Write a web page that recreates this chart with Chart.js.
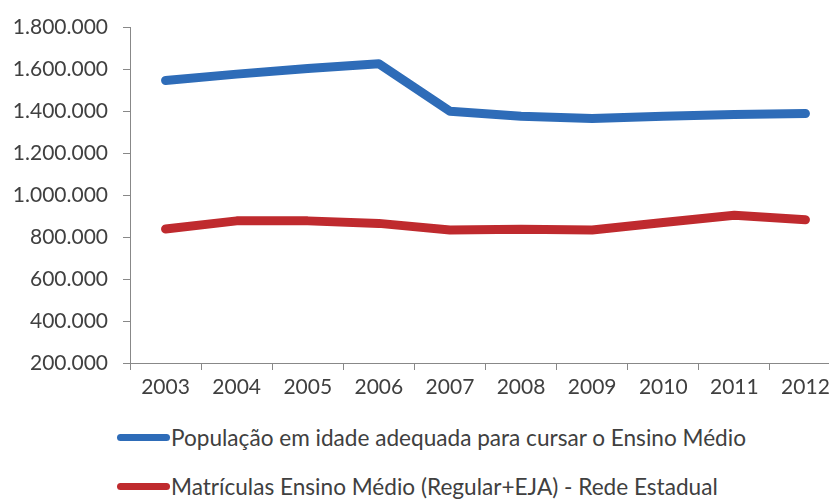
<!DOCTYPE html>
<html>
<head>
<meta charset="utf-8">
<script src="https://cdn.jsdelivr.net/npm/chart.js@4.4.1/dist/chart.umd.min.js"></script>
<style>
  html, body { margin: 0; padding: 0; background: #fff; overflow: hidden; width: 829px; height: 500px; }
  #wrap { position: absolute; left: 0; top: 0; width: 842px; height: 410px; }
  .leg { position: absolute; left: 117px; font-family: Lato, sans-serif; font-size: 22.6px; color: #404040; white-space: nowrap; }
  .sw { position: absolute; left: 0; width: 53px; height: 7px; border-radius: 4px; }
  .lt { position: absolute; left: 54px; line-height: 24px; }
</style>
</head>
<body>
<div id="wrap"><canvas id="c" width="842" height="410"></canvas></div>
<div class="leg" id="leg1" style="top:426px;"><div class="sw" style="top:8px;background:#2e6cb8"></div><div class="lt" id="t1"></div></div>
<div class="leg" id="leg2" style="top:475px;"><div class="sw" style="top:8px;background:#bf2a2e"></div><div class="lt" id="t2"></div></div>
<script>
const years = ['2003','2004','2005','2006','2007','2008','2009','2010','2011','2012'];
const populacao = [1548000, 1578000, 1605000, 1628000, 1401000, 1377000, 1366000, 1377000, 1385000, 1390000];
const matriculas = [839000, 878000, 878000, 866000, 834000, 838000, 834000, 870000, 905000, 883000];
const seriesNames = ['População em idade adequada para cursar o Ensino Médio', 'Matrículas Ensino Médio (Regular+EJA) - Rede Estadual'];
const seriesColors = ['#2e6cb8', '#bf2a2e'];

document.getElementById('t1').textContent = seriesNames[0];
document.getElementById('t2').textContent = seriesNames[1];

function fmt(v) {
  return String(v).replace(/\B(?=(\d{3})+(?!\d))/g, '.');
}

new Chart(document.getElementById('c'), {
  type: 'line',
  data: {
    labels: years,
    datasets: [
      { label: seriesNames[0], data: populacao, borderColor: seriesColors[0], backgroundColor: seriesColors[0],
        borderWidth: 9, pointRadius: 0, tension: 0, borderCapStyle: 'round', borderJoinStyle: 'round' },
      { label: seriesNames[1], data: matriculas, borderColor: seriesColors[1], backgroundColor: seriesColors[1],
        borderWidth: 9, pointRadius: 0, tension: 0, borderCapStyle: 'round', borderJoinStyle: 'round' }
    ]
  },
  options: {
    responsive: false,
    animation: false,
    layout: { padding: { top: 26, right: 1, left: 0, bottom: 0 } },
    plugins: { legend: { display: false }, tooltip: { enabled: false } },
    scales: {
      x: {
        offset: true,
        grid: { offset: true, drawOnChartArea: false, drawTicks: true, tickLength: 7, color: '#888888', lineWidth: 1 },
        border: { color: '#888888', width: 1 },
        ticks: { color: '#404040', font: { family: 'Lato', size: 21 }, padding: 5, maxRotation: 0, autoSkip: false },
        afterFit: (s) => { s.height = 47; }
      },
      y: {
        min: 200000, max: 1800000,
        grid: { drawOnChartArea: false, drawTicks: true, tickLength: 7, color: '#888888', lineWidth: 1 },
        border: { color: '#888888', width: 1 },
        ticks: { stepSize: 200000, color: '#404040', font: { family: 'Lato', size: 21 }, padding: 15, callback: (v) => fmt(v) },
        afterFit: (s) => { s.width = 130; }
      }
    }
  }
});
</script>
</body>
</html>
